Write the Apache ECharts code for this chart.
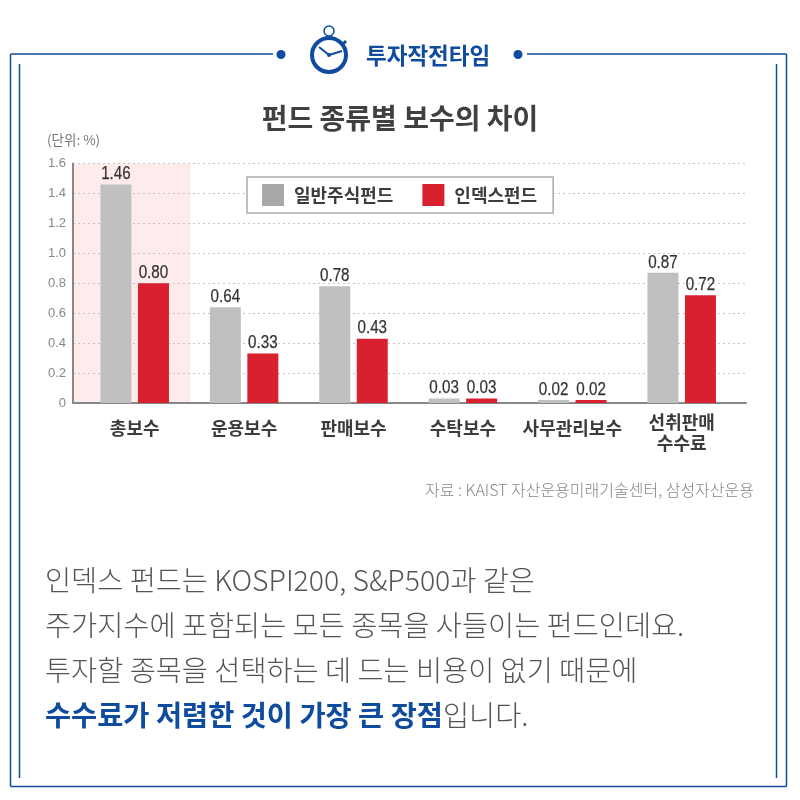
<!DOCTYPE html>
<html>
<head>
<meta charset="utf-8">
<style>html,body{margin:0;padding:0;background:#fff}#main{width:800px;height:800px}</style>
<script src="https://cdn.jsdelivr.net/npm/echarts@6/dist/echarts.min.js"></script>
</head>
<body>
<div id="main"></div>
<script>
var categories = ['총보수', '운용보수', '판매보수', '수탁보수', '사무관리보수', '선취판매\n수수료'];
var seriesNames = ['일반주식펀드', '인덱스펀드'];
var generalFund = [1.46, 0.64, 0.78, 0.03, 0.02, 0.87];
var indexFund = [0.80, 0.33, 0.43, 0.03, 0.02, 0.72];
var bodyLines = [
  '인덱스 펀드는 KOSPI200, S&P500과 같은',
  '주가지수에 포함되는 모든 종목을 사들이는 펀드인데요.',
  '투자할 종목을 선택하는 데 드는 비용이 없기 때문에'
];

var krFont = '"Noto Sans CJK KR", sans-serif';
var blue = '#0f4c9f';

var chart = echarts.init(document.getElementById('main'));

function line(x1, y1, x2, y2, w) {
  return { type: 'line', shape: { x1: x1, y1: y1, x2: x2, y2: y2 }, style: { stroke: blue, lineWidth: w || 1.5 } };
}
function dot(cx, cy) {
  return { type: 'circle', shape: { cx: cx, cy: cy, r: 4.5 }, style: { fill: blue } };
}
function bodyText(text, y) {
  return { type: 'text', x: 45, y: y, style: { text: text, fill: '#555', font: '300 28.4px ' + krFont, textVerticalAlign: 'middle' } };
}

// value labels above the bars, squeezed sideways like the condensed face of the original
function labelSeries(values, offset) {
  return {
    type: 'custom', xAxisIndex: 1, yAxisIndex: 1, z: 5, silent: true,
    data: values,
    renderItem: function (params, api) {
      var p = api.coord([params.dataIndex, api.value(1)]);
      return {
        type: 'text', x: p[0] + offset, y: p[1] - 1, scaleX: 0.8,
        style: {
          text: api.value(1).toFixed(2), fill: '#333', stroke: '#333', lineWidth: 0.25,
          font: '19px "Liberation Sans", sans-serif', textAlign: 'center', textVerticalAlign: 'bottom'
        }
      };
    }
  };
}

var option = {
  backgroundColor: '#fff',
  animation: false,
  title: {
    text: '펀드 종류별 보수의 차이',
    left: 'center',
    top: 99,
    textStyle: { fontFamily: krFont, fontSize: 28, fontWeight: 'bold', color: '#404040' }
  },
  legend: {
    left: 247,
    top: 177,
    padding: [7, 16, 7, 15],
    icon: 'rect',
    itemWidth: 22,
    itemHeight: 22,
    itemGap: 29,
    backgroundColor: '#fff',
    borderColor: '#aaa',
    borderWidth: 1.5,
    borderRadius: 0,
    selectedMode: false,
    data: [
      { name: seriesNames[0], itemStyle: { color: '#a8a8a8' } },
      { name: seriesNames[1], itemStyle: { color: '#d9202e' } }
    ],
    textStyle: { fontFamily: krFont, fontSize: 18, fontWeight: 'bold', color: '#3c3c3c', padding: [0, 0, 0, 5] }
  },
  grid: [
    // full width frame: axis lines and dashed rules
    { left: 73, top: 163.5, width: 673, height: 239.5 },
    // inner grid that holds the six category bands
    { left: 80, top: 163.5, width: 656.4, height: 239.5 }
  ],
  xAxis: [
    {
      type: 'value', gridIndex: 0, min: 0, max: 1,
      axisLine: { show: true, onZero: false, lineStyle: { color: '#888', width: 2 } },
      axisTick: { show: false }, axisLabel: { show: false }, splitLine: { show: false }
    },
    {
      type: 'category', gridIndex: 1, data: categories,
      axisLine: { show: false }, axisTick: { show: false }, splitLine: { show: false },
      axisLabel: {
        margin: 30, interval: 0, lineHeight: 21, verticalAlign: 'middle',
        fontFamily: krFont, fontSize: 18, fontWeight: 'bold', color: '#3c3c3c',
        formatter: function (v) { return v.indexOf('\n') < 0 ? '{one|' + v + '}' : v; },
        rich: {
          one: {
            padding: [0, 0, 10, 0], lineHeight: 21,
            fontFamily: krFont, fontSize: 18, fontWeight: 'bold', color: '#3c3c3c'
          }
        }
      }
    }
  ],
  yAxis: [
    {
      type: 'value', gridIndex: 0, min: 0, max: 1.6, interval: 0.2,
      axisLine: { show: true, lineStyle: { color: '#888', width: 2 } },
      axisTick: { show: false },
      axisLabel: {
        margin: 7, fontFamily: '"Liberation Sans", sans-serif', fontSize: 13, color: '#888',
        formatter: function (v) { return v === 0 ? '0' : v.toFixed(1); }
      },
      splitLine: { show: true, lineStyle: { color: '#c4c4c4', type: [2, 3], width: 1 } }
    },
    { type: 'value', gridIndex: 1, min: 0, max: 1.6, show: false }
  ],
  series: [
    {
      name: seriesNames[0], type: 'bar', xAxisIndex: 1, yAxisIndex: 1,
      data: generalFund, barWidth: 31, barGap: '21%',
      itemStyle: { color: '#c0c0c0' }
    },
    {
      name: seriesNames[1], type: 'bar', xAxisIndex: 1, yAxisIndex: 1,
      data: indexFund, barWidth: 31,
      itemStyle: { color: '#d9202e' }
    },
    labelSeries(generalFund, -18.75),
    labelSeries(indexFund, 18.75)
  ],
  graphic: [
    // highlight behind the first category
    { type: 'rect', z: -1, shape: { x: 73, y: 163.5, width: 117, height: 239.5 }, style: { fill: '#feecec' } },

    // outer and inner frame
    line(273, 54, 10.5, 54), line(10.5, 54, 10.5, 786.5), line(10.5, 786.5, 786.5, 786.5),
    line(786.5, 786.5, 786.5, 54), line(786.5, 54, 527, 54),
    line(19.5, 64, 19.5, 778), line(776.5, 64, 776.5, 778),
    dot(281, 54.5), dot(518, 54.5),

    // stopwatch
    { type: 'circle', shape: { cx: 329, cy: 31, r: 5 }, style: { fill: 'none', stroke: blue, lineWidth: 1.5 } },
    { type: 'circle', shape: { cx: 329, cy: 55, r: 17 }, style: { fill: '#fff', stroke: blue, lineWidth: 4 } },
    line(329, 36, 329, 39, 3),
    line(343, 44, 346, 41, 3),
    line(329, 55, 319, 47, 2),
    line(329, 55, 342, 51, 2),
    { type: 'circle', shape: { cx: 329, cy: 55, r: 2 }, style: { fill: blue } },

    { type: 'text', x: 366, y: 55, style: { text: '투자작전타임', fill: blue, font: 'bold 22.5px ' + krFont, textVerticalAlign: 'middle' } },

    { type: 'text', x: 47, y: 140, style: { text: '(단위: %)', fill: '#777', font: '13.5px ' + krFont, textVerticalAlign: 'middle' } },
    { type: 'text', x: 754, y: 490, style: { text: '자료 : KAIST 자산운용미래기술센터, 삼성자산운용', fill: '#888', font: '300 16px ' + krFont, textAlign: 'right', textVerticalAlign: 'middle' } },

    bodyText(bodyLines[0], 580),
    bodyText(bodyLines[1], 625),
    bodyText(bodyLines[2], 670),
    {
      type: 'text', x: 45, y: 715,
      style: {
        text: '{b|수수료가 저렴한 것이 가장 큰 장점}{n|입니다.}',
        textVerticalAlign: 'middle',
        rich: {
          b: { fill: blue, font: 'bold 28.4px ' + krFont },
          n: { fill: '#555', font: '300 28.4px ' + krFont }
        }
      }
    }
  ]
};

chart.setOption(option);
</script>
</body>
</html>
